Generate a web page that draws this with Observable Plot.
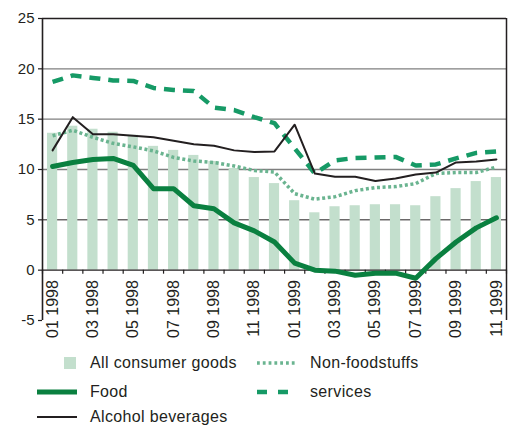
<!DOCTYPE html>
<html><head><meta charset="utf-8">
<script src="https://cdn.jsdelivr.net/npm/d3@7"></script>
<script src="https://cdn.jsdelivr.net/npm/@observablehq/plot@0.6"></script>
<style>
body{margin:0;background:#fff;font-family:"Liberation Sans",Arial,Helvetica,sans-serif;color:#231f20}
#chart{width:509px;height:428px;position:relative;overflow:hidden}
#legend{position:absolute;left:0;top:345px;width:509px;height:83px}
.lt{position:absolute;font-size:16px;letter-spacing:0.35px;line-height:1;white-space:nowrap;transform:translateY(-50%);color:#231f20}
.sw{position:absolute;overflow:visible}
</style></head><body><div id="chart"></div>
<script>
const months = ["01 1998","02 1998","03 1998","04 1998","05 1998","06 1998","07 1998","08 1998","09 1998","10 1998","11 1998","12 1998",
  "01 1999","02 1999","03 1999","04 1999","05 1999","06 1999","07 1999","08 1999","09 1999","10 1999","11 1999"];
const tickLabels = ["01 1998","03 1998","05 1998","07 1998","09 1998","11 1998","01 1999","03 1999","05 1999","07 1999","09 1999","11 1999"];
const allConsumerGoods = [13.6,14.3,14.0,13.7,13.4,12.3,11.9,11.4,10.8,10.1,9.2,8.6,6.9,5.7,6.3,6.4,6.5,6.5,6.4,7.3,8.1,8.8,9.2];
const food = [10.3,10.7,11.0,11.1,10.4,8.1,8.1,6.4,6.1,4.7,3.9,2.8,0.7,0.0,-0.1,-0.5,-0.3,-0.3,-0.8,1.15,2.8,4.2,5.2];
const alcoholBeverages = [11.9,15.2,13.5,13.5,13.35,13.2,12.85,12.5,12.35,11.9,11.75,11.8,14.45,9.6,9.27,9.27,8.85,9.1,9.5,9.7,10.7,10.8,11.0];
const nonFoodstuffs = [13.35,13.9,13.2,12.6,12.25,11.85,11.2,10.85,10.7,10.35,9.9,9.75,7.6,7.05,7.3,7.9,8.2,8.3,8.6,9.6,9.7,9.7,10.25];
const services = [18.7,19.35,19.1,18.85,18.8,18.1,17.9,17.8,16.15,15.9,15.2,14.6,12.1,9.6,10.9,11.15,11.2,11.25,10.4,10.5,11.1,11.65,11.8];
const yTicks = [-5,0,5,10,15,20,25];
const gridGray = [10,15,20];
const gridDark = [5];

const legendItems = [
  {label:"All consumer goods", kind:"bar"},
  {label:"Food", kind:"food"},
  {label:"Alcohol beverages", kind:"alcohol"},
  {label:"Non-foodstuffs", kind:"nonfood"},
  {label:"services", kind:"services"}
];

const C = {bar:"#c3dfcd", food:"#0a8040", services:"#169a66", nonfood:"#6ab490", alcohol:"#231f20"};

const rows = months.map((m,i)=>({i, month:m, all:allConsumerGoods[i], food:food[i], alc:alcoholBeverages[i], non:nonFoodstuffs[i], srv:services[i]}));
const n = months.length;
const cx = d => d.i + 0.5;

const plot = Plot.plot({
  width: 509, height: 350,
  marginLeft: 42, marginRight: 3, marginTop: 18, marginBottom: 30,
  style: {fontFamily: '"Liberation Sans", Arial, sans-serif', color: "#231f20", background: "transparent"},
  x: {type: "linear", domain: [0, n], axis: null},
  y: {domain: [-5, 25], axis: null},
  marks: [
    Plot.ruleY(gridGray, {stroke: "#7f7f7f", strokeWidth: 1.3}),
    Plot.ruleY(gridDark, {stroke: "#231f20", strokeWidth: 1}),
    Plot.rectY(rows, {x1: d=>d.i, x2: d=>d.i+1, y1: 0, y2: "all", fill: C.bar, insetLeft: 5, insetRight: 5}),
    Plot.ruleY([25], {stroke: "#231f20", strokeWidth: 1.5}),
    Plot.ruleY([0], {stroke: "#231f20", strokeWidth: 1.3}),
    Plot.ruleX([0], {y1: -5, y2: 25, stroke: "#231f20", strokeWidth: 1.6}),
    Plot.ruleX([n], {y1: -5, y2: 25, stroke: "#231f20", strokeWidth: 1.5}),
    Plot.ruleX(d3.range(n+1), {y1: 0, y2: -0.4, stroke: "#231f20", strokeWidth: 1.2}),
    Plot.ruleY(yTicks, {x1: 0, x2: 0, insetLeft: -4, stroke: "#231f20", strokeWidth: 1.2}),
    Plot.text(yTicks, {x: 0, y: d=>d, text: d=>String(d), textAnchor: "end", dx: -8, fontSize: 15, fill: "#231f20", letterSpacing: 0.6}),
    Plot.line(rows, {x: cx, y: "non", stroke: C.nonfood, strokeWidth: 3.5, strokeDasharray: "3,2.6", strokeLinecap: "butt", strokeLinejoin: "miter"}),
    Plot.line(rows, {x: cx, y: "food", stroke: C.food, strokeWidth: 5, strokeLinejoin: "round"}),
    Plot.line(rows, {x: cx, y: "srv", stroke: C.services, strokeWidth: 4.5, strokeDasharray: "11,8", strokeLinecap: "butt", strokeLinejoin: "miter"}),
    Plot.line(rows, {x: cx, y: "alc", stroke: C.alcohol, strokeWidth: 2}),
    Plot.text(rows.filter(d=>tickLabels.includes(d.month)), {x: cx, y: 0, text: "month", rotate: -90, textAnchor: "end", dy: 10, fontSize: 16, fill: "#231f20", letterSpacing: 0.9})
  ]
});
const chart = document.getElementById("chart");
chart.appendChild(plot);
plot.style.position = "absolute"; plot.style.left = "0"; plot.style.top = "0";

const leg = document.createElement("div");
leg.id = "legend";
chart.appendChild(leg);
const pos = {
  bar: {sx:37, y:18, tx:90},
  food: {sx:37, y:47, tx:90},
  alcohol: {sx:37, y:72, tx:90},
  nonfood: {sx:257, y:18, tx:310},
  services: {sx:257, y:47, tx:310}
};
const ns = "http://www.w3.org/2000/svg";
for (const it of legendItems) {
  const p = pos[it.kind];
  const s = document.createElementNS(ns, "svg");
  s.setAttribute("class","sw");
  s.setAttribute("width", 42); s.setAttribute("height", 14);
  s.style.left = p.sx + "px"; s.style.top = (p.y - 7) + "px";
  let el;
  if (it.kind === "bar") {
    el = document.createElementNS(ns, "rect");
    el.setAttribute("x", 27); el.setAttribute("y", 1); el.setAttribute("width", 12); el.setAttribute("height", 12);
    el.setAttribute("fill", C.bar);
  } else {
    el = document.createElementNS(ns, "line");
    el.setAttribute("x1", 0); el.setAttribute("x2", 40); el.setAttribute("y1", 7); el.setAttribute("y2", 7);
    const st = {food:[C.food,5,null], alcohol:[C.alcohol,2,null], nonfood:[C.nonfood,3.5,"2.8,3"], services:[C.services,4.5,"10,11"]}[it.kind];
    el.setAttribute("stroke", st[0]); el.setAttribute("stroke-width", st[1]);
    if (st[2]) el.setAttribute("stroke-dasharray", st[2]);
  }
  s.appendChild(el);
  leg.appendChild(s);
  const t = document.createElement("span");
  t.className = "lt"; t.textContent = it.label;
  t.style.left = p.tx + "px"; t.style.top = p.y + "px";
  leg.appendChild(t);
}
</script></body></html>
